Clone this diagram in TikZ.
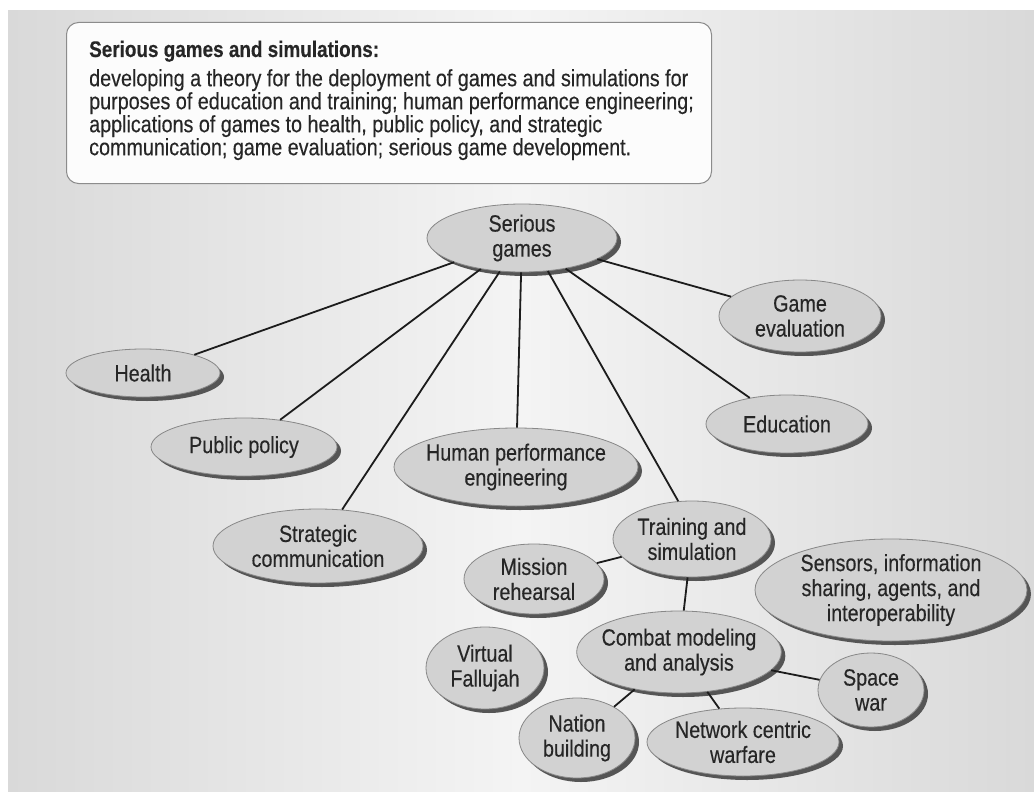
\documentclass[tikz,border=0pt]{standalone}
\usepackage{fontspec}
\setmainfont{Liberation Sans}[FakeStretch=0.84, FakeBold=0.3]
\usetikzlibrary{shapes.geometric,shadows,positioning}

\definecolor{bgside}{HTML}{D9D9D9}
\definecolor{bgmid}{HTML}{F4F4F4}
\definecolor{ovalfill}{HTML}{D2D2D2}
\definecolor{ovaledge}{HTML}{888888}
\definecolor{shade}{HTML}{555555}
\definecolor{inktext}{HTML}{262626}
\definecolor{boxfill}{HTML}{FCFCFC}
\definecolor{boxedge}{HTML}{8C8C8C}
\definecolor{linkcol}{HTML}{1C1C1C}

\begin{document}
\begin{tikzpicture}[
    x=1pt, y=-1pt,
    topic/.style={ellipse, draw=ovaledge, fill=ovalfill, line width=0.8pt,
        inner xsep=-5pt, inner ysep=0pt, align=center, text=inktext,
        font=\fontsize{23.5}{25}\selectfont,
        drop shadow={shadow xshift=4pt, shadow yshift=-4pt, fill=shade, opacity=1}},
    oval/.style 2 args={minimum width=#1, minimum height=#2},
    link/.style={line width=1.8pt, draw=linkcol}
]
\useasboundingbox (0,0) rectangle (1034,792);
\fill[white] (0,0) rectangle (1034,792);
\shade[left color=bgside, right color=bgside, middle color=bgmid] (8,11) rectangle (1034,792);

% summary box
\node[draw=boxedge, fill=boxfill, rounded corners=12pt, line width=1pt,
      minimum width=645pt, minimum height=161pt, anchor=north west] (brief) at (66,22) {};
\node[anchor=base west, inner sep=0pt, text=inktext,
      font=\fontsize{22.5}{23}\selectfont\bfseries] (title) at (89,57) {Serious games and simulations:};
\node[anchor=north west, inner sep=0pt, align=left, text=inktext,
      font=\fontsize{23.5}{23}\selectfont] (body) at (89,69)
  {developing a theory for the deployment of games and simulations for\\
   purposes of education and training; human performance engineering;\\
   applications of games to health, public policy, and strategic\\
   communication; game evaluation; serious game development.};

% topics
\node[topic, oval={190pt}{68pt}] (serious) at (522,238) {Serious\\games};
\node[topic, oval={162pt}{72pt}] (evaluation) at (800,316) {Game\\evaluation};
\node[topic, oval={154pt}{48pt}] (health) at (143,373) {Health};
\node[topic, oval={162pt}{58pt}] (education) at (787,424) {Education};
\node[topic, oval={186pt}{58pt}] (policy) at (244,447) {Public policy};
\node[topic, oval={244pt}{78pt}] (human) at (516,467) {Human performance\\engineering};
\node[topic, oval={210pt}{74pt}] (strategic) at (318,546) {Strategic\\communication};
\node[topic, oval={158pt}{76pt}] (training) at (692,539) {Training and\\simulation};
\node[topic, oval={140pt}{70pt}] (mission) at (534,579) {Mission\\rehearsal};
\node[topic, oval={272pt}{102pt}] (sensors) at (891,590) {Sensors, information\\sharing, agents, and\\interoperability};
\node[topic, oval={118pt}{82pt}] (fallujah) at (485,668) {Virtual\\Fallujah};
\node[topic, oval={204pt}{82pt}] (combat) at (679,652) {Combat modeling\\and analysis};
\node[topic, oval={106pt}{74pt}] (spacewar) at (871,690) {Space\\war};
\node[topic, oval={116pt}{80pt}] (nation) at (577,738) {Nation\\building};
\node[topic, oval={192pt}{68pt}] (network) at (743,742) {Network centric\\warfare};

% links
\draw[link] (serious) -- (health);
\draw[link] (serious) -- (policy);
\draw[link] (serious) -- (strategic);
\draw[link] (serious) -- (human);
\draw[link] (serious.-52) -- (training.110);
\draw[link] (serious) -- (education);
\draw[link] (serious) -- (evaluation);
\draw[link] (training) -- (mission);
\draw[link] (training) -- (combat);
\draw[link] (combat) -- (nation);
\draw[link] (combat) -- (network);
\draw[link] (combat) -- (spacewar);
\end{tikzpicture}
\end{document}
